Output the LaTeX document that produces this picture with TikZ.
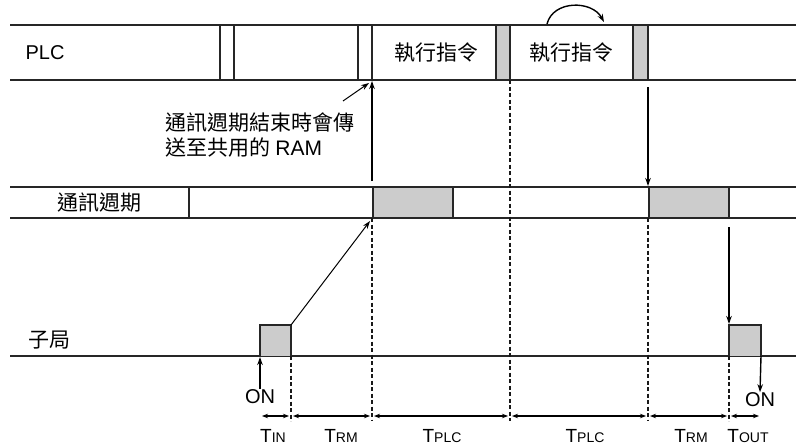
\documentclass[tikz,border=0pt]{standalone}
\usepackage{fontspec}
\setmainfont{Liberation Sans}
\newfontfamily\cjk{Noto Sans CJK TC}
\usetikzlibrary{arrows.meta}

\newcommand{\tsub}[1]{T{\fontsize{14}{16}\selectfont #1}}

\begin{document}
\begin{tikzpicture}[
    x=1pt, y=-1pt,
    >={Stealth[length=8pt, width=5.5pt]},
    line width=1.4pt,
    band/.style={draw=black!85, line width=1.7pt},
    busy/.style={draw=black!85, line width=1.7pt, fill=black!20},
    guide/.style={draw=black!90, dash pattern=on 4pt off 2.5pt, line width=1.3pt},
    span/.style={{Stealth[length=6pt, width=4.5pt]}-{Stealth[length=6pt, width=4.5pt]}, shorten >=2pt, shorten <=2pt},
    txt/.style={inner sep=0pt, font=\fontsize{20}{24}\selectfont},
    cjktxt/.style={inner sep=0pt, font=\cjk\fontsize{21}{25}\selectfont},
    tlbl/.style={inner sep=0pt, font=\fontsize{19}{22}\selectfont}
]
\useasboundingbox (0,0) rectangle (796,447);

% PLC band
\draw[band] (10,25) -- (796,25) (10,80) -- (796,80);
\foreach \x in {220,234,358,372}
  \draw[band] (\x,25) -- (\x,80);
\draw[busy] (496,25) rectangle (510,80);
\draw[busy] (633,25) rectangle (648,80);

\node[txt]    (plc)  at (45,53)  {PLC};
\node[cjktxt] (run1) at (436,53) {執行指令};
\node[cjktxt] (run2) at (571,53) {執行指令};

% communication band
\draw[band] (10,187) -- (796,187) (10,218) -- (796,218);
\draw[band] (189,187) -- (189,218);
\draw[busy] (373,187) rectangle (453,218);
\draw[busy] (649,187) rectangle (729,218);

\node[cjktxt] (comm) at (99,203) {通訊週期};

% slave station
\draw[band] (10,356) -- (796,356);
\filldraw[busy] (260,356) -- (260,325) -- (291,325) -- (291,356);
\filldraw[busy] (729,356) -- (729,325) -- (761,325) -- (761,356);

\node[cjktxt] (slave) at (49,340) {子局};

% note
\node[cjktxt, anchor=west] (note1) at (165,123) {通訊週期結束時會傳};
\node[cjktxt, anchor=west] (note2) at (165,148) {送至共用的 \rmfamily RAM};

% time marks
\foreach \n/\x in {a/260,b/291,c/372,d/510,e/648,f/729,g/761}
  \coordinate (t\n) at (\x,416);

\draw[guide] (291,356) -- (291,421);
\draw[guide] (372,218) -- (372,421);
\draw[guide] (510,80)  -- (510,421);
\draw[guide] (648,218) -- (648,421);
\draw[guide] (729,356) -- (729,421);

\draw[span] (ta) -- (tb);
\draw[span] (tb) -- (tc);
\draw[span] (tc) -- (td);
\draw[span] (td) -- (te);
\draw[span] (te) -- (tf);
\draw[span] (tf) -- (tg);

\node[tlbl] (tin)   at (273,436) {\tsub{IN}};
\node[tlbl] (trm1)  at (341,436) {\tsub{RM}};
\node[tlbl] (tplc1) at (442,436) {\tsub{PLC}};
\node[tlbl] (tplc2) at (585,436) {\tsub{PLC}};
\node[tlbl] (trm2)  at (691,436) {\tsub{RM}};
\node[tlbl] (tout)  at (748,436) {\tsub{OUT}};

% ON signals
\node[txt] (onin)  at (260,397) {ON};
\node[txt] (onout) at (760,400) {ON};
\coordinate (pin)  at (260,357);
\coordinate (pout) at (761,356);
\draw[->] (onin.north) -- (pin);
\draw[->] (pout) -- (onout.north);

% transfers
\coordinate (commup)  at (372,181);
\coordinate (plcin)   at (372,81);
\coordinate (plcout)  at (648,87);
\coordinate (commdn)  at (648,186);
\coordinate (commout) at (729,227);
\coordinate (pulse)   at (729,324);
\draw[->] (commup) -- (plcin);
\draw[->] (plcout) -- (commdn);
\draw[->] (commout) -- (pulse);

\coordinate (notetip) at (369,83);
\coordinate (insend)  at (291,325);
\coordinate (instip)  at (370,221);
\draw[->, line width=1pt] (343,101) -- (notetip);
\draw[->, line width=1pt] (insend) -- (instip);

\coordinate (loopa) at (547,24);
\coordinate (loopb) at (604,22);
\draw[->] (loopa) .. controls (553,0) and (592,0) .. (loopb);

\end{tikzpicture}
\end{document}
